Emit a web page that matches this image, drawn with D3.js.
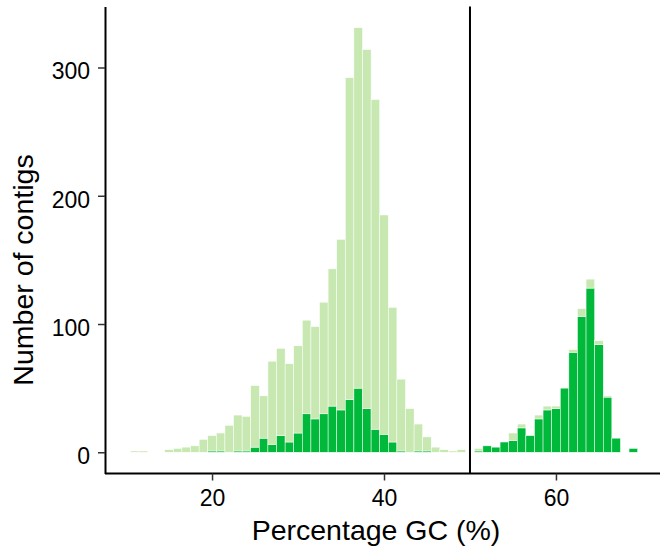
<!DOCTYPE html>
<html>
<head>
<meta charset="utf-8">
<script src="https://cdn.jsdelivr.net/npm/d3@7"></script>
<style>
  body { margin: 0; background: #fff; }
  svg text { font-family: "Liberation Sans", Arial, sans-serif; }
</style>
</head>
<body>
<svg id="chart" width="660" height="547"></svg>
<script>
// GC bins (bin centres, width 1)
var gcBins = [11,12,13,14,15,16,17,18,19,20,21,22,23,24,25,26,27,28,29,30,
              31,32,33,34,35,36,37,38,39,40,41,42,43,44,45,46,47,48,49,50,
              51,52,53,54,55,56,57,58,59,60,61,62,63,64,65,66,67,68,69];
// total contigs per bin
var totalCounts = [1,1,0,0,2,3,4,5,10,13,15,21,29,28,52,44,71,81,69,83,
                   103,98,117,143,166,292,331,314,275,185,113,57,34,22,12,4,2,1,2,0,
                   3,5,4,8,15,22,13,29,36,36,50,80,112,135,87,44,11,0,3];
// dark series (bottom of the stack)
var darkCounts = [0,0,0,0,0,0,0,0,0,1,1,0,1,1,4,11,6,13,8,15,
                  30,26,30,36,33,41,50,34,18,14,8,1,0,1,1,0,0,0,0,0,
                  1,5,4,8,9,19,13,26,33,34,50,78,106,128,84,43,11,0,3];
var xTicks = [20, 40, 60];
var yTicks = [0, 100, 200, 300];
var cutoff = 50;

var svg = d3.select("#chart");

var x = d3.scaleLinear().domain([7.55, 72.45]).range([105, 663]);
var y = d3.scaleLinear().domain([-16.55, 347.55]).range([473.5, 6.5]);

var lightCol = "#c7e8b1", darkCol = "#00b93a";

//----------------------------BARS--------------------------------
var bars = svg.append("g");
gcBins.forEach(function(k, i) {
  var d = darkCounts[i], t = totalCounts[i];
  if (d > 0) {
    bars.append("rect")
      .attr("x", x(k - 0.5)).attr("width", x(k + 0.5) - x(k - 0.5))
      .attr("y", y(d)).attr("height", y(0) - y(d))
      .attr("fill", darkCol).attr("stroke", "#fff").attr("stroke-width", 0.5);
  }
  if (t > d) {
    bars.append("rect")
      .attr("x", x(k - 0.5)).attr("width", x(k + 0.5) - x(k - 0.5))
      .attr("y", y(t)).attr("height", y(d) - y(t))
      .attr("fill", lightCol).attr("stroke", "#fff").attr("stroke-width", 0.5);
  }
});

// cut-off line
svg.append("line")
  .attr("x1", x(cutoff)).attr("x2", x(cutoff))
  .attr("y1", y.range()[1]).attr("y2", y.range()[0])
  .attr("stroke", "#000").attr("stroke-width", 2);

//----------------------------AXES--------------------------------
var xAxis = svg.append("g")
  .attr("transform", "translate(0," + y.range()[0] + ")")
  .call(d3.axisBottom(x).tickValues(xTicks).tickSize(7).tickPadding(9).tickSizeOuter(0));
xAxis.select(".domain").attr("d", "M105,0H660").attr("stroke", "#000").attr("stroke-width", 2);

var yAxis = svg.append("g")
  .attr("transform", "translate(105,0)")
  .call(d3.axisLeft(y).tickValues(yTicks).tickSize(7).tickPadding(8).tickSizeOuter(0));
yAxis.select(".domain").attr("stroke", "#000").attr("stroke-width", 2);
yAxis.selectAll(".tick text").attr("dy", "0.5em");

svg.selectAll(".tick line").attr("stroke", "#333").attr("stroke-width", 1.5);
svg.selectAll(".tick text").attr("font-size", 23).attr("fill", "#000")
  .attr("font-family", "Liberation Sans, Arial, sans-serif");

//----------------------------LABELS------------------------------
svg.append("text")
  .attr("x", 376).attr("y", 540)
  .attr("text-anchor", "middle")
  .attr("font-size", 28.5)
  .text("Percentage GC (%)");

svg.append("text")
  .attr("transform", "translate(33,270) rotate(-90)")
  .attr("text-anchor", "middle")
  .attr("font-size", 28.5)
  .text("Number of contigs");
</script>
</body>
</html>
